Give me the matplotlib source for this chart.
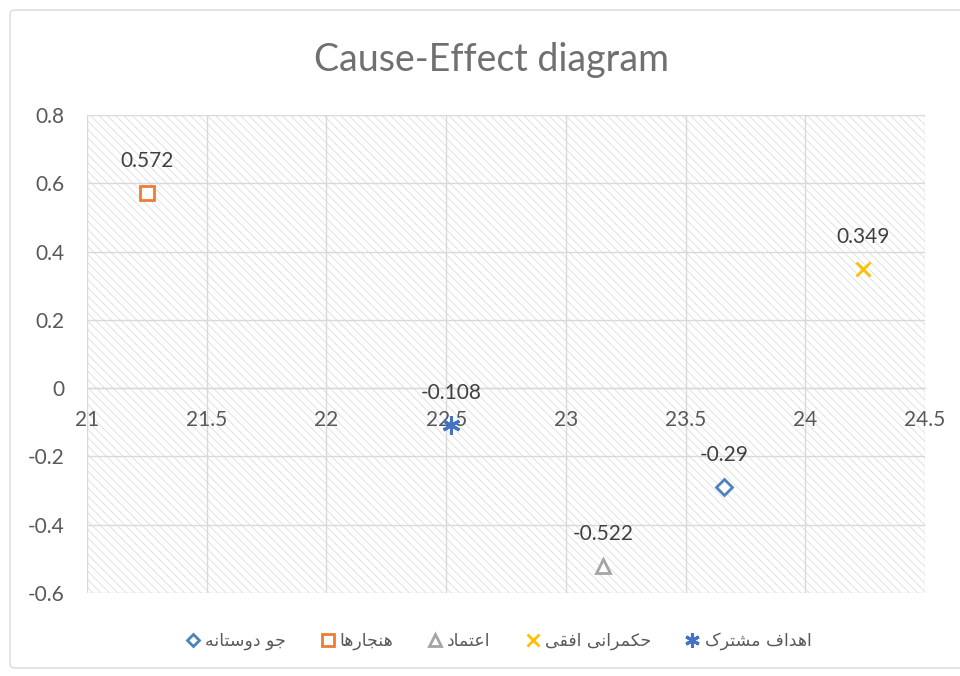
import matplotlib
matplotlib.use("Agg")
import matplotlib.pyplot as plt
from matplotlib.patches import Rectangle, FancyBboxPatch

# ---- data ----
series_names = ["جو دوستانه", "هنجارها", "اعتماد", "حکمرانی افقی", "اهداف مشترک"]
x_vals = [23.66, 21.25, 23.155, 24.24, 22.52]
y_vals = [-0.29, 0.572, -0.522, 0.349, -0.108]
point_labels = ["-0.29", "0.572", "-0.522", "0.349", "-0.108"]
x_ticks = [21, 21.5, 22, 22.5, 23, 23.5, 24, 24.5]
y_ticks = [-0.6, -0.4, -0.2, 0, 0.2, 0.4, 0.6, 0.8]

# ---- style ----
markers = ["D", "s", "^", "x", (6, 2, 0)]
colors = ["#4f81bd", "#ed7d31", "#a5a5a5", "#ffc000", "#4472c4"]
msizes = [8, 10, 10, 10, 13]
GRID = "#d9d9d9"
TXT = "#595959"

plt.rcParams["font.family"] = ["Lato", "DejaVu Sans"]
plt.rcParams["hatch.linewidth"] = 0.7

# Minimal Persian shaping (presentation forms + visual order), since
# matplotlib does no bidi / joining on its own.
DUAL = {
    "ج": (0xFE9D, 0xFE9E, 0xFE9F, 0xFEA0),
    "ح": (0xFEA1, 0xFEA2, 0xFEA3, 0xFEA4),
    "س": (0xFEB1, 0xFEB2, 0xFEB3, 0xFEB4),
    "ش": (0xFEB5, 0xFEB6, 0xFEB7, 0xFEB8),
    "ت": (0xFE95, 0xFE96, 0xFE97, 0xFE98),
    "ن": (0xFEE5, 0xFEE6, 0xFEE7, 0xFEE8),
    "ه": (0xFEE9, 0xFEEA, 0xFEEB, 0xFEEC),
    "ع": (0xFEC9, 0xFECA, 0xFECB, 0xFECC),
    "م": (0xFEE1, 0xFEE2, 0xFEE3, 0xFEE4),
    "ف": (0xFED1, 0xFED2, 0xFED3, 0xFED4),
    "ق": (0xFED5, 0xFED6, 0xFED7, 0xFED8),
    "ک": (0xFB8E, 0xFB8F, 0xFB90, 0xFB91),
    "ی": (0xFBFC, 0xFBFD, 0xFBFE, 0xFBFF),
}
RIGHT = {
    "ا": (0xFE8D, 0xFE8E),
    "د": (0xFEA9, 0xFEAA),
    "ر": (0xFEAD, 0xFEAE),
    "و": (0xFEED, 0xFEEE),
}


def shape(text):
    out = []
    n = len(text)
    for i, ch in enumerate(text):
        if ch not in DUAL and ch not in RIGHT:
            out.append(ch)
            continue
        prev = text[i - 1] if i > 0 else ""
        nxt = text[i + 1] if i + 1 < n else ""
        join_prev = prev in DUAL
        join_next = ch in DUAL and (nxt in DUAL or nxt in RIGHT)
        forms = DUAL.get(ch) or RIGHT[ch]
        if join_prev and join_next:
            f = forms[3]
        elif join_prev:
            f = forms[1]
        elif join_next:
            f = forms[2]
        else:
            f = forms[0]
        out.append(chr(f))
    return "".join(reversed(out))


fig = plt.figure(figsize=(9.6, 6.76), dpi=100)
fig.patch.set_facecolor("white")

# outer chart frame
fig.patches.append(FancyBboxPatch(
    (10 / 960, 8 / 676), 1.0, 1 - 18 / 676,
    boxstyle="round,pad=0,rounding_size=0.006",
    transform=fig.transFigure, facecolor="none", edgecolor=GRID, lw=1.0))

ax = fig.add_axes([87 / 960, 1 - 593 / 676, 838 / 960, 478 / 676])
ax.set_xlim(21, 24.5)
ax.set_ylim(-0.6, 0.8)

# hatched plot area
ax.add_patch(Rectangle((0, 0), 1, 1, transform=ax.transAxes, facecolor="white",
                       edgecolor="#e2e2e2", hatch="\\\\\\\\", lw=0, zorder=0))

ax.set_xticks(x_ticks)
ax.set_yticks(y_ticks)
ax.set_xticklabels([f"{t:g}" for t in x_ticks])
ax.set_yticklabels([f"{t:g}" for t in y_ticks])
ax.grid(True, color=GRID, lw=1.0, zorder=1)
ax.set_axisbelow(True)
for s in ["top", "right", "left"]:
    ax.spines[s].set_visible(False)
ax.spines["bottom"].set_position(("data", 0))
ax.spines["bottom"].set_color(GRID)
ax.spines["bottom"].set_linewidth(1.0)
ax.tick_params(axis="both", length=0, labelsize=15, labelcolor=TXT)
ax.tick_params(axis="x", pad=16)
ax.tick_params(axis="y", pad=16)

for i, name in enumerate(series_names):
    ax.plot([x_vals[i]], [y_vals[i]], linestyle="none", marker=markers[i],
            ms=msizes[i], mfc="white" if i < 3 else colors[i], mec=colors[i],
            mew=2.2 if i == 4 else 2.0, color=colors[i], label=shape(name),
            zorder=5)
    ax.annotate(point_labels[i], (x_vals[i], y_vals[i]), xytext=(0, 23),
                textcoords="offset points", ha="center", va="center",
                fontsize=15, color="#404040", zorder=6)

fig.text(492 / 960, 1 - 60 / 676, "Cause-Effect diagram", ha="center",
         va="center", fontsize=27, color="#707070")

leg = fig.legend(loc="center", bbox_to_anchor=(497 / 960, 1 - 641 / 676),
                 ncol=5, frameon=False, handletextpad=0.1,
                 columnspacing=1.8, handlelength=1.2, labelcolor=TXT,
                 prop={"family": ["DejaVu Sans"], "size": 12.5},
                 markerscale=0.8)

fig.savefig("out.png", dpi=100, facecolor="white")
